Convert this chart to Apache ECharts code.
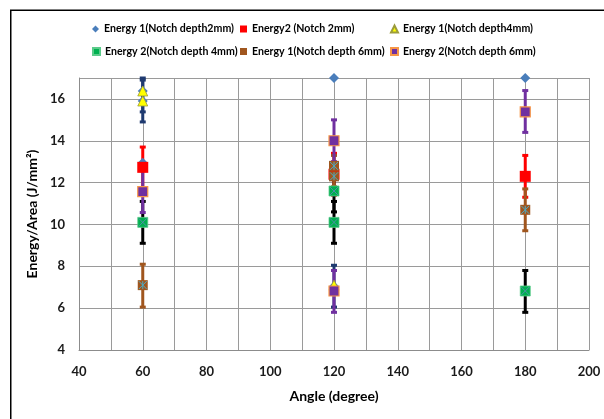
<!DOCTYPE html>
<html>
<head>
<meta charset="utf-8">
<script src="https://cdn.jsdelivr.net/npm/echarts@6/dist/echarts.min.js"></script>
<style>html,body{margin:0;padding:0;background:#fff;}#c{width:604px;height:419px;}</style>
</head>
<body>
<div id="c"></div>
<script>
// ---- data ----
const seriesNames = [
  'Energy 1(Notch depth2mm)',
  'Energy2 (Notch 2mm)',
  'Energy 1(Notch depth4mm)',
  'Energy 2(Notch depth 4mm)',
  'Energy 1(Notch depth 6mm)',
  'Energy 2(Notch depth 6mm)'
];
const blueDiamond = [[60,16.38],[60,15.9],[60,12.95],[120,17.0],[120,7.05],[180,17.0]];
const redSquare   = [[60,12.73],[120,12.4],[180,12.3]];
const yellowTri   = [[60,16.38],[60,15.9],[120,7.1]];
const greenSq     = [[60,10.1],[120,11.6],[120,10.1],[180,6.82]];
const brownSq     = [[60,7.1],[120,12.8],[120,12.3],[180,10.7]];
const purpleSq    = [[60,11.57],[120,14.0],[120,6.82],[180,15.38]];
// error bars: [x, low, high]
const navyErr   = [[60,15.38,17.0],[60,14.9,16.9],[120,6.05,8.05]];
const redErr    = [[60,11.73,13.7],[120,11.4,13.4],[180,11.3,13.3]];
const blackErr  = [[60,9.1,11.1],[120,9.1,11.1],[120,10.6,12.6],[180,5.8,7.8]];
const brownErr  = [[60,6.05,8.1],[120,11.8,13.3],[180,9.7,11.7]];
const purpleErr = [[60,10.57,12.57],[120,13.0,15.0],[120,5.8,7.8],[180,14.4,16.4]];
const xMin = 40, xMax = 200, xStep = 20;
const yMin = 4, yMax = 17, yStep = 2;

const FONT = 'Lato';
const chart = echarts.init(document.getElementById('c'), null, {renderer:'canvas'});

function errSeries(data, color) {
  return {
    type: 'custom', data: data, z: 1, silent: true,
    itemStyle: {color: color},
    renderItem: function (params, api) {
      const x = api.value(0), lo = api.value(1), hi = api.value(2);
      const a = api.coord([x, lo]), b = api.coord([x, hi]);
      const hw = 3;
      const st = {stroke: color, lineWidth: 3};
      return {type: 'group', children: [
        {type: 'line', shape: {x1: a[0], y1: a[1], x2: b[0], y2: b[1]}, style: st},
        {type: 'line', shape: {x1: a[0]-hw, y1: a[1], x2: a[0]+hw, y2: a[1]}, style: st},
        {type: 'line', shape: {x1: b[0]-hw, y1: b[1], x2: b[0]+hw, y2: b[1]}, style: st}
      ]};
    }
  };
}

const legendBase = {
  orient: 'horizontal', padding: 0, itemWidth: 7, itemHeight: 7, itemGap: 0,
  selectedMode: false,
  textStyle: {fontFamily: FONT, fontWeight: 'bold', fontSize: 10.6, color: '#000'}
};
const legendPos = [[92,23.5],[240,23.5],[390,23.5],[92,46],[240,46],[390,46]];
const legendIcons = ['diamond','rect','triangle','rect','rect','rect'];
const legends = seriesNames.map(function (n, i) {
  return Object.assign({}, legendBase, {
    left: legendPos[i][0], top: legendPos[i][1],
    data: [{name: n, icon: legendIcons[i]}]
  });
});

const option = {
  animation: false,
  backgroundColor: '#fff',
  grid: {left: 79, top: 78, right: 15, bottom: 69, containLabel: false},
  legend: legends,
  xAxis: {
    type: 'value', min: xMin, max: xMax, interval: xStep,
    name: 'Angle (degree)', nameLocation: 'middle', nameGap: 39,
    nameTextStyle: {fontFamily: FONT, fontWeight: 'bold', fontSize: 14, color: '#000'},
    axisLine: {show: true, lineStyle: {color: '#8c8c8c', width: 1}},
    axisTick: {show: false},
    axisLabel: {fontFamily: FONT, fontWeight: 'bold', fontSize: 13, color: '#1a1a1a', margin: 15},
    splitLine: {show: true, lineStyle: {color: '#9a9a9a', width: 1}},
    minorTick: {show: false, splitNumber: 2},
    minorSplitLine: {show: true, lineStyle: {color: '#9a9a9a', width: 1}}
  },
  yAxis: {
    type: 'value', min: yMin, max: yMax, interval: yStep,
    name: 'Energy/Area (J/mm²)', nameLocation: 'middle', nameGap: 35,
    nameTextStyle: {fontFamily: FONT, fontWeight: 'bold', fontSize: 14, color: '#000'},
    axisLine: {show: true, lineStyle: {color: '#8c8c8c', width: 1}},
    axisTick: {show: false},
    axisLabel: {fontFamily: FONT, fontWeight: 'bold', fontSize: 13, color: '#1a1a1a', margin: 14,
      formatter: function (v) { return v === yMax ? '' : String(v); }},
    splitLine: {show: true, lineStyle: {color: '#9a9a9a', width: 1}}
  },
  graphic: [{
    type: 'rect', z: 100, silent: true,
    shape: {x: 10.75, y: 10.25, width: 700, height: 600},
    style: {fill: 'none', stroke: '#000', lineWidth: 1.5}
  }],
  series: [
    errSeries(navyErr, '#1F3A70'),
    errSeries(redErr, '#FF0000'),
    errSeries(blackErr, '#000000'),
    errSeries(brownErr, '#A0561E'),
    errSeries(purpleErr, '#7030A0'),
    {name: seriesNames[0], type: 'scatter', data: blueDiamond, z: 2, symbol: 'diamond', symbolSize: 10,
      itemStyle: {color: '#4A7EBB', opacity: 1}},
    {name: seriesNames[1], type: 'scatter', data: redSquare, z: 2, symbol: 'rect', symbolSize: 11,
      itemStyle: {color: '#FF0000', opacity: 1}},
    {name: seriesNames[2], type: 'scatter', data: yellowTri, z: 2, symbol: 'triangle', symbolSize: 10,
      itemStyle: {color: '#FFFF00', borderColor: '#9C9C3C', borderWidth: 0.8, opacity: 1}},
    {name: seriesNames[3], type: 'scatter', data: greenSq, z: 2, symbol: 'rect', symbolSize: 10,
      itemStyle: {color: '#00B050', borderColor: '#5BCB8A', borderWidth: 0.8, opacity: 1}},
    {type: 'scatter', data: greenSq, z: 3, silent: true, symbol: 'path://M0,0L10,10M10,0L0,10', symbolSize: 8,
      itemStyle: {color: 'transparent', borderColor: '#4F8FA8', borderWidth: 1, opacity: 1}},
    {name: seriesNames[4], type: 'scatter', data: brownSq, z: 2, symbol: 'rect', symbolSize: 10,
      itemStyle: {color: '#A0561E', opacity: 1}},
    {type: 'scatter', data: brownSq, z: 3, silent: true, symbol: 'path://M0,0L10,10M10,0L0,10M5,0L5,10', symbolSize: 8,
      itemStyle: {color: 'transparent', borderColor: '#4BACC6', borderWidth: 1, opacity: 1}},
    {name: seriesNames[5], type: 'scatter', data: purpleSq, z: 2, symbol: 'rect', symbolSize: 10,
      itemStyle: {color: '#7030A0', borderColor: '#F79646', borderWidth: 1.2, opacity: 1}}
  ]
};
chart.setOption(option);
</script>
</body>
</html>
